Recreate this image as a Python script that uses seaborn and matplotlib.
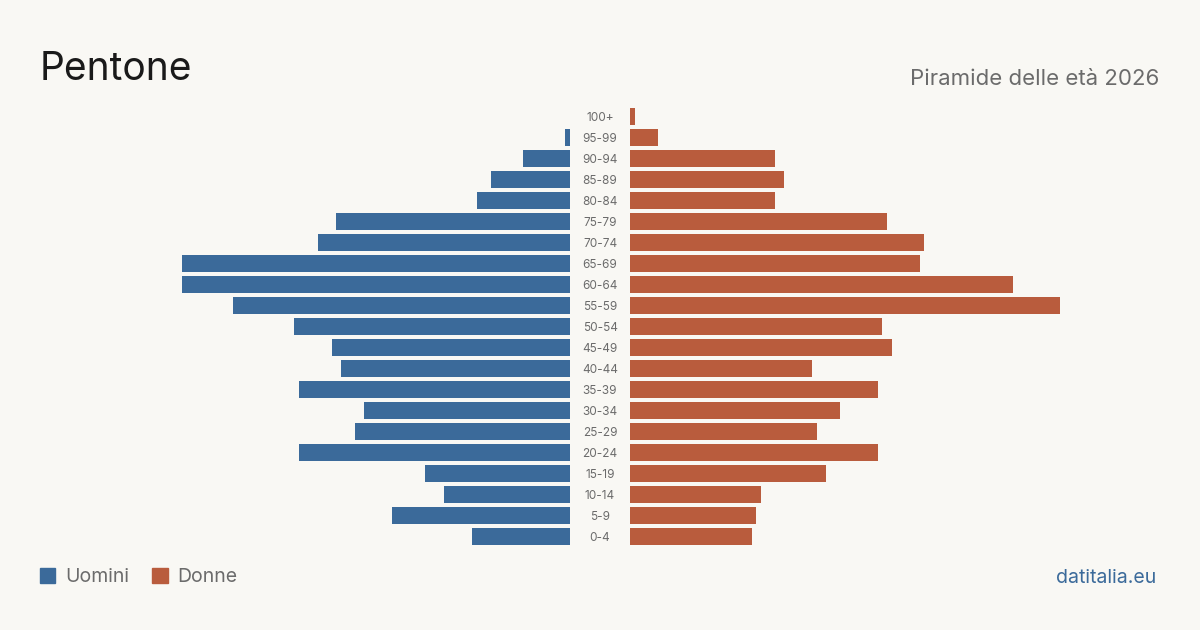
"""Piramide delle età - Pentone 2026"""

import matplotlib.pyplot as plt
from matplotlib.patches import Patch
import pandas as pd
import seaborn as sns

ages = ["100+", "95-99", "90-94", "85-89", "80-84", "75-79", "70-74", "65-69",
        "60-64", "55-59", "50-54", "45-49", "40-44", "35-39", "30-34", "25-29",
        "20-24", "15-19", "10-14", "5-9", "0-4"]
uomini = [0, 1, 10, 17, 20, 50, 54, 83, 83, 72, 59, 51, 49, 58, 44, 46, 58, 31, 27, 38, 21]
donne = [1, 6, 31, 33, 31, 55, 63, 62, 82, 92, 54, 56, 39, 53, 45, 40, 53, 42, 28, 27, 26]

BG = "#f9f8f4"
BLUE = "#3b6a9a"
ORANGE = "#b95c3d"
GREY = "#6b6b6b"

df = pd.DataFrame({"eta": ages, "uomini": uomini, "donne": donne})

sns.set_style("white")
plt.rcParams["font.family"] = ["Inter", "DejaVu Sans"]

fig = plt.figure(figsize=(12, 6.3), dpi=100, facecolor=BG)

W, H = 1200, 630
top, bottom = 106, 547
xmax = max(max(uomini), max(donne))
ax_l = fig.add_axes([140 / W, 1 - bottom / H, 430 / W, (bottom - top) / H])
ax_r = fig.add_axes([630 / W, 1 - bottom / H, 430 / W, (bottom - top) / H])

sns.barplot(data=df, x="uomini", y="eta", ax=ax_l, color=BLUE, width=0.81,
            saturation=1, orient="h", linewidth=0)
sns.barplot(data=df, x="donne", y="eta", ax=ax_r, color=ORANGE, width=0.81,
            saturation=1, orient="h", linewidth=0)

ax_l.set_xlim(xmax, 0)
ax_r.set_xlim(0, xmax)
for ax in (ax_l, ax_r):
    ax.set_facecolor(BG)
    ax.set_ylim(len(ages) - 0.5, -0.5)
    ax.set_xlabel("")
    ax.set_ylabel("")
    ax.set_xticks([])
    ax.set_yticks([])
    sns.despine(ax=ax, left=True, bottom=True)

# age labels between the two halves
for i, a in enumerate(ages):
    ax_r.text(-30 / 430 * xmax, i, a, ha="center", va="center_baseline",
              fontsize=8.5, color=GREY, clip_on=False)

fig.text(40 / W, 1 - 80 / H, "Pentone", fontsize=28, color="#1a1a1a",
         ha="left", va="baseline")
fig.text(1159 / W, 1 - 85 / H, "Piramide delle età 2026", fontsize=16,
         color=GREY, ha="right", va="baseline")
fig.text(1156 / W, 1 - 583 / H, "datitalia.eu", fontsize=14, color=BLUE,
         ha="right", va="baseline")

handles = [Patch(color=BLUE, label="Uomini"), Patch(color=ORANGE, label="Donne")]
fig.legend(handles=handles, loc="center left", bbox_to_anchor=(22 / W, 1 - 577 / H),
           ncol=2, frameon=False, fontsize=14, handlelength=0.8, handleheight=0.8,
           handletextpad=0.5, columnspacing=1.2, labelcolor=GREY)

fig.savefig("out.png", dpi=100, facecolor=BG)
